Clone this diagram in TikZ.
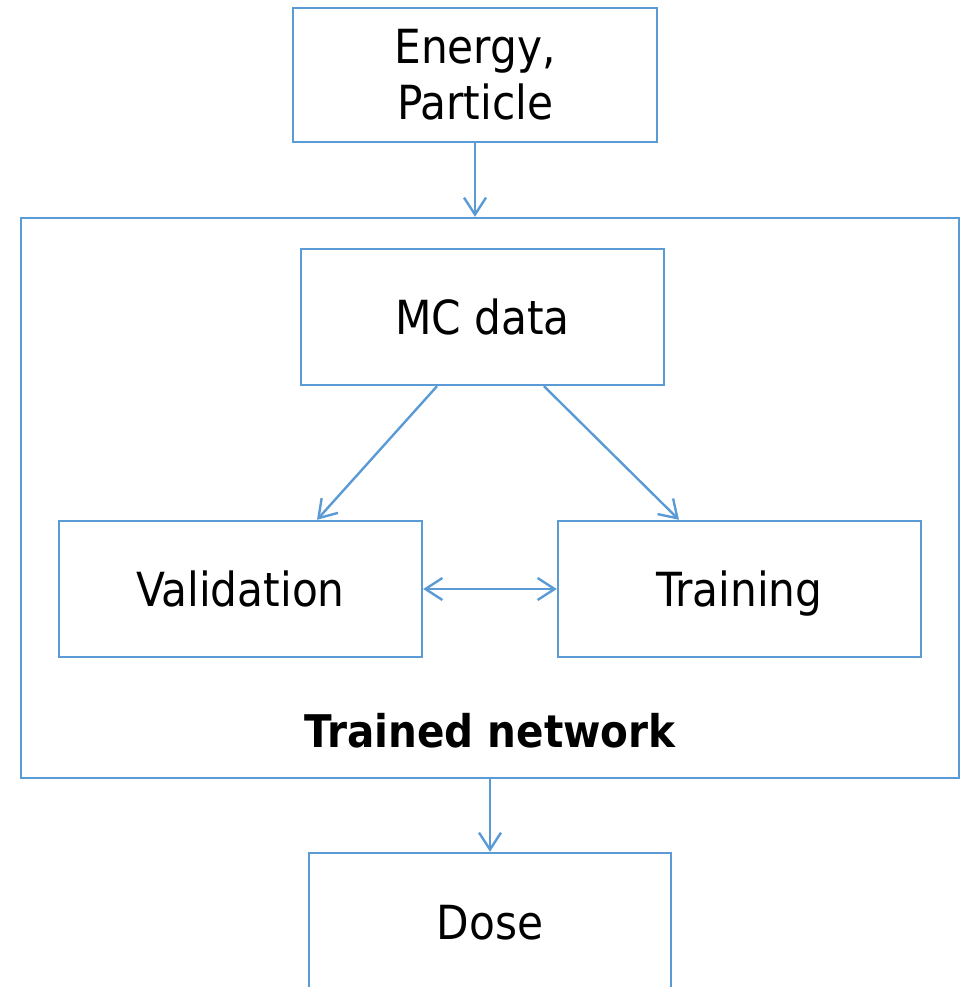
\documentclass[tikz,border=0pt]{standalone}
\usepackage{fontspec}
\setmainfont{DejaVu Sans Condensed}
\usetikzlibrary{arrows.meta}
\definecolor{boxblue}{HTML}{5B9BD5}
\tikzset{
  box/.style={draw=boxblue, line width=2.4pt, rectangle, inner sep=0pt,
    minimum width=363pt, minimum height=136pt, align=center,
    font=\fontsize{47}{56}\selectfont},
  onerow/.style={text height=35.7pt, text depth=0pt},
  barb/.tip={Straight Barb[length=17pt,width=22pt,line width=2.4pt]},
  arr/.style={draw=boxblue, line width=2.4pt, -barb},
  dblarr/.style={draw=boxblue, line width=2.4pt, barb-barb}
}
\begin{document}
\begin{tikzpicture}[x=1pt,y=-1pt]
\useasboundingbox (0,0) rectangle (964,987);
\clip (0,0) rectangle (964,987);

% enclosing frame of the trained network
\node[draw=boxblue, line width=2.4pt, rectangle, inner sep=0pt,
      minimum width=938pt, minimum height=560pt] (outer) at (490,498) {};

\node[box, minimum width=364pt, minimum height=134pt] (energy) at (475,75) {Energy,\\Particle};
\node[box, onerow] (mc) at (482.5,317) {MC data};
\node[box, onerow] (val) at (240.5,589) {Validation};
\node[box, onerow] (train) at (739.5,589) {Training};
\node[font=\fontsize{45}{56}\selectfont\bfseries] (tn) at (490,731) {Trained network};
\node[box, onerow, minimum width=362pt, minimum height=138pt] (dose) at (490,922) {Dose};

% connectors
\draw[arr] (energy.south) -- (energy.south |- outer.north);
\draw[arr] ([xshift=-45.5pt]mc.south) -- ([xshift=76.5pt]val.north);
\draw[arr] ([xshift=61.5pt]mc.south) -- ([xshift=-60.5pt]train.north);
\draw[dblarr] (val.east) -- (train.west);
\draw[arr] (dose.north |- outer.south) -- (dose.north);
\end{tikzpicture}
\end{document}
